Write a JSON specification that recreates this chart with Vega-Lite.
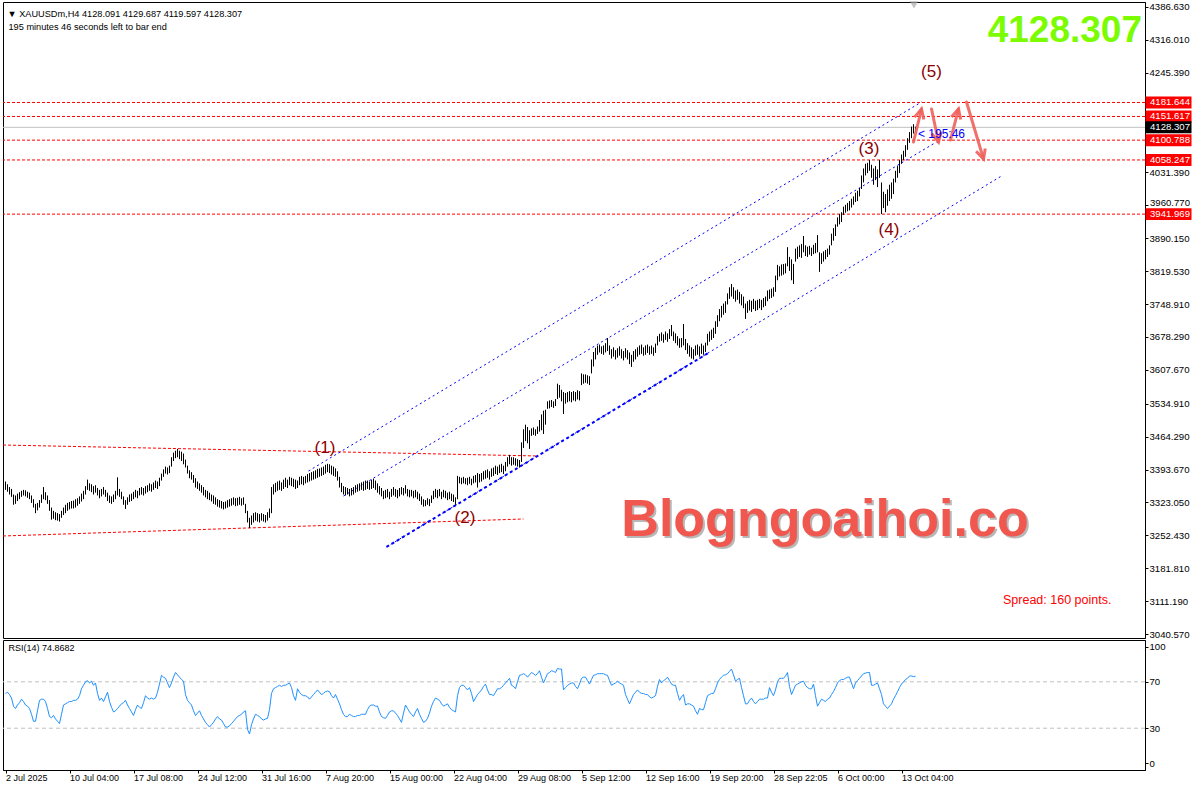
{
"$schema":"https://vega.github.io/schema/vega-lite/v6.json",
"padding":0,
"background":"white",
"spacing":2,
"bounds":"flush",
"config":{"view":{"stroke":"black","strokeWidth":1},"font":"Liberation Sans","axis":{"labelFont":"Liberation Sans","labelFontSize":9.6,"labelColor":"black","domainColor":"black","tickColor":"black","grid":false,"tickSize":3}},
"datasets":{"bars":[
{"i":0,"l":3350,"h":3368,"r":60},{"i":1,"l":3346,"h":3362,"r":61},{"i":2,"l":3340,"h":3356,"r":59},{"i":3,"l":3335,"h":3352,"r":56},{"i":4,"l":3318,"h":3340,"r":49},{"i":5,"l":3320,"h":3338,"r":47},{"i":6,"l":3326,"h":3342,"r":50},{"i":7,"l":3330,"h":3345,"r":52},{"i":8,"l":3335,"h":3348,"r":55},{"i":9,"l":3338,"h":3350,"r":53},
{"i":10,"l":3336,"h":3349,"r":50},{"i":11,"l":3333,"h":3346,"r":49},{"i":12,"l":3330,"h":3344,"r":47},{"i":13,"l":3322,"h":3338,"r":42},{"i":14,"l":3312,"h":3330,"r":36},{"i":15,"l":3300,"h":3320,"r":36},{"i":16,"l":3306,"h":3322,"r":45},{"i":17,"l":3312,"h":3328,"r":54},{"i":18,"l":3322,"h":3340,"r":55},{"i":19,"l":3330,"h":3356,"r":55},
{"i":20,"l":3328,"h":3345,"r":53},{"i":21,"l":3320,"h":3338,"r":47},{"i":22,"l":3305,"h":3328,"r":40},{"i":23,"l":3286,"h":3312,"r":39},{"i":24,"l":3288,"h":3305,"r":41},{"i":25,"l":3285,"h":3302,"r":38},{"i":26,"l":3284,"h":3300,"r":36},{"i":27,"l":3282,"h":3298,"r":34},{"i":28,"l":3290,"h":3305,"r":42},{"i":29,"l":3296,"h":3312,"r":50},
{"i":30,"l":3300,"h":3318,"r":51},{"i":31,"l":3305,"h":3322,"r":52},{"i":32,"l":3308,"h":3324,"r":53},{"i":33,"l":3310,"h":3326,"r":53},{"i":34,"l":3310,"h":3327,"r":54},{"i":35,"l":3312,"h":3330,"r":54},{"i":36,"l":3316,"h":3332,"r":55},{"i":37,"l":3320,"h":3336,"r":58},{"i":38,"l":3325,"h":3342,"r":64},{"i":39,"l":3330,"h":3348,"r":67},
{"i":40,"l":3340,"h":3358,"r":70},{"i":41,"l":3350,"h":3372,"r":71},{"i":42,"l":3348,"h":3364,"r":69},{"i":43,"l":3345,"h":3362,"r":70.5},{"i":44,"l":3340,"h":3358,"r":67},{"i":45,"l":3344,"h":3360,"r":69},{"i":46,"l":3338,"h":3354,"r":60},{"i":47,"l":3332,"h":3350,"r":54},{"i":48,"l":3336,"h":3352,"r":56},{"i":49,"l":3340,"h":3356,"r":53},
{"i":50,"l":3335,"h":3350,"r":57},{"i":51,"l":3326,"h":3344,"r":61},{"i":52,"l":3322,"h":3338,"r":53},{"i":53,"l":3320,"h":3336,"r":48},{"i":54,"l":3324,"h":3340,"r":44},{"i":55,"l":3330,"h":3348,"r":45},{"i":56,"l":3338,"h":3377,"r":47},{"i":57,"l":3335,"h":3352,"r":49},{"i":58,"l":3330,"h":3346,"r":51},{"i":59,"l":3318,"h":3336,"r":52},
{"i":60,"l":3309,"h":3328,"r":54},{"i":61,"l":3318,"h":3334,"r":50},{"i":62,"l":3324,"h":3340,"r":47},{"i":63,"l":3326,"h":3342,"r":44},{"i":64,"l":3330,"h":3346,"r":41},{"i":65,"l":3334,"h":3350,"r":46},{"i":66,"l":3332,"h":3348,"r":50},{"i":67,"l":3338,"h":3354,"r":48},{"i":68,"l":3340,"h":3356,"r":47},{"i":69,"l":3338,"h":3354,"r":52},
{"i":70,"l":3342,"h":3358,"r":58},{"i":71,"l":3345,"h":3360,"r":56},{"i":72,"l":3348,"h":3364,"r":55},{"i":73,"l":3346,"h":3362,"r":56},{"i":74,"l":3350,"h":3366,"r":55},{"i":75,"l":3354,"h":3370,"r":56},{"i":76,"l":3352,"h":3368,"r":61},{"i":77,"l":3358,"h":3376,"r":68},{"i":78,"l":3370,"h":3385,"r":75.6},{"i":79,"l":3378,"h":3394,"r":74},
{"i":80,"l":3385,"h":3400,"r":73},{"i":81,"l":3383,"h":3398,"r":69},{"i":82,"l":3386,"h":3402,"r":65},{"i":83,"l":3400,"h":3420,"r":69},{"i":84,"l":3412,"h":3430,"r":74},{"i":85,"l":3418,"h":3434,"r":78},{"i":86,"l":3420,"h":3438,"r":76},{"i":87,"l":3416,"h":3434,"r":74},{"i":88,"l":3412,"h":3432,"r":72},{"i":89,"l":3405,"h":3428,"r":70.5},
{"i":90,"l":3398,"h":3415,"r":59},{"i":91,"l":3385,"h":3402,"r":54},{"i":92,"l":3375,"h":3392,"r":52},{"i":93,"l":3372,"h":3388,"r":50},{"i":94,"l":3365,"h":3382,"r":45},{"i":95,"l":3355,"h":3375,"r":41},{"i":96,"l":3352,"h":3368,"r":43},{"i":97,"l":3348,"h":3364,"r":45},{"i":98,"l":3344,"h":3360,"r":41},{"i":99,"l":3338,"h":3356,"r":38},
{"i":100,"l":3334,"h":3350,"r":35},{"i":101,"l":3330,"h":3348,"r":33},{"i":102,"l":3328,"h":3344,"r":31},{"i":103,"l":3325,"h":3340,"r":33},{"i":104,"l":3320,"h":3338,"r":35},{"i":105,"l":3318,"h":3334,"r":38},{"i":106,"l":3314,"h":3330,"r":40},{"i":107,"l":3312,"h":3328,"r":38},{"i":108,"l":3310,"h":3326,"r":37},{"i":109,"l":3308,"h":3324,"r":34},
{"i":110,"l":3310,"h":3325,"r":31},{"i":111,"l":3312,"h":3328,"r":31},{"i":112,"l":3314,"h":3330,"r":32},{"i":113,"l":3316,"h":3332,"r":34},{"i":114,"l":3318,"h":3334,"r":36},{"i":115,"l":3315,"h":3332,"r":38},{"i":116,"l":3316,"h":3333,"r":40},{"i":117,"l":3318,"h":3335,"r":41},{"i":118,"l":3316,"h":3332,"r":42},{"i":119,"l":3318,"h":3334,"r":44},
{"i":120,"l":3300,"h":3320,"r":45},{"i":121,"l":3280,"h":3305,"r":29},{"i":122,"l":3268,"h":3290,"r":25},{"i":123,"l":3275,"h":3295,"r":33},{"i":124,"l":3280,"h":3300,"r":38},{"i":125,"l":3284,"h":3302,"r":42},{"i":126,"l":3282,"h":3300,"r":41},{"i":127,"l":3280,"h":3298,"r":40},{"i":128,"l":3284,"h":3300,"r":38},{"i":129,"l":3282,"h":3298,"r":37},
{"i":130,"l":3280,"h":3296,"r":38},{"i":131,"l":3284,"h":3302,"r":38.5},{"i":132,"l":3290,"h":3310,"r":46},{"i":133,"l":3300,"h":3356,"r":60},{"i":134,"l":3340,"h":3362,"r":64},{"i":135,"l":3345,"h":3365,"r":65},{"i":136,"l":3348,"h":3368,"r":66},{"i":137,"l":3350,"h":3370,"r":67},{"i":138,"l":3348,"h":3366,"r":66},{"i":139,"l":3352,"h":3372,"r":67},
{"i":140,"l":3356,"h":3376,"r":67},{"i":141,"l":3354,"h":3372,"r":68},{"i":142,"l":3360,"h":3378,"r":69},{"i":143,"l":3358,"h":3376,"r":65},{"i":144,"l":3356,"h":3374,"r":58},{"i":145,"l":3352,"h":3372,"r":54},{"i":146,"l":3354,"h":3370,"r":64},{"i":147,"l":3360,"h":3378,"r":61},{"i":148,"l":3362,"h":3380,"r":59},{"i":149,"l":3360,"h":3378,"r":58},
{"i":150,"l":3364,"h":3380,"r":58},{"i":151,"l":3366,"h":3384,"r":57},{"i":152,"l":3368,"h":3386,"r":55},{"i":153,"l":3370,"h":3388,"r":57},{"i":154,"l":3372,"h":3390,"r":59},{"i":155,"l":3374,"h":3392,"r":61},{"i":156,"l":3376,"h":3395,"r":63},{"i":157,"l":3378,"h":3396,"r":61},{"i":158,"l":3380,"h":3398,"r":59},{"i":159,"l":3382,"h":3400,"r":60},
{"i":160,"l":3385,"h":3404,"r":61.5},{"i":161,"l":3388,"h":3406,"r":62},{"i":162,"l":3386,"h":3405,"r":61.5},{"i":163,"l":3383,"h":3402,"r":58},{"i":164,"l":3380,"h":3400,"r":56},{"i":165,"l":3378,"h":3396,"r":59},{"i":166,"l":3370,"h":3390,"r":55},{"i":167,"l":3355,"h":3378,"r":51},{"i":168,"l":3345,"h":3365,"r":46},{"i":169,"l":3340,"h":3358,"r":42},
{"i":170,"l":3338,"h":3356,"r":40},{"i":171,"l":3340,"h":3354,"r":40},{"i":172,"l":3336,"h":3352,"r":42},{"i":173,"l":3338,"h":3354,"r":41},{"i":174,"l":3340,"h":3356,"r":40},{"i":175,"l":3344,"h":3360,"r":40},{"i":176,"l":3346,"h":3362,"r":41},{"i":177,"l":3348,"h":3364,"r":41},{"i":178,"l":3350,"h":3366,"r":42},{"i":179,"l":3348,"h":3368,"r":42},
{"i":180,"l":3350,"h":3370,"r":42},{"i":181,"l":3352,"h":3370,"r":46},{"i":182,"l":3350,"h":3368,"r":49},{"i":183,"l":3352,"h":3372,"r":50},{"i":184,"l":3354,"h":3374,"r":50},{"i":185,"l":3350,"h":3370,"r":49},{"i":186,"l":3344,"h":3364,"r":49},{"i":187,"l":3340,"h":3358,"r":44},{"i":188,"l":3336,"h":3354,"r":40},{"i":189,"l":3330,"h":3348,"r":39},
{"i":190,"l":3332,"h":3350,"r":38.5},{"i":191,"l":3334,"h":3352,"r":41},{"i":192,"l":3330,"h":3346,"r":44},{"i":193,"l":3335,"h":3352,"r":45},{"i":194,"l":3338,"h":3356,"r":45},{"i":195,"l":3335,"h":3352,"r":43},{"i":196,"l":3332,"h":3350,"r":41},{"i":197,"l":3336,"h":3354,"r":38},{"i":198,"l":3340,"h":3356,"r":35},{"i":199,"l":3338,"h":3354,"r":43},
{"i":200,"l":3342,"h":3360,"r":50},{"i":201,"l":3336,"h":3352,"r":47},{"i":202,"l":3334,"h":3350,"r":44},{"i":203,"l":3336,"h":3350,"r":42},{"i":204,"l":3332,"h":3348,"r":40},{"i":205,"l":3334,"h":3350,"r":44},{"i":206,"l":3330,"h":3346,"r":47},{"i":207,"l":3326,"h":3342,"r":42},{"i":208,"l":3318,"h":3336,"r":38.5},{"i":209,"l":3314,"h":3330,"r":35},
{"i":210,"l":3315,"h":3328,"r":36},{"i":211,"l":3318,"h":3332,"r":38.5},{"i":212,"l":3315,"h":3330,"r":43},{"i":213,"l":3322,"h":3338,"r":49},{"i":214,"l":3330,"h":3348,"r":53},{"i":215,"l":3334,"h":3352,"r":56},{"i":216,"l":3332,"h":3350,"r":55},{"i":217,"l":3336,"h":3352,"r":54},{"i":218,"l":3330,"h":3346,"r":51},{"i":219,"l":3334,"h":3350,"r":49},
{"i":220,"l":3332,"h":3348,"r":50},{"i":221,"l":3328,"h":3344,"r":51},{"i":222,"l":3330,"h":3346,"r":48},{"i":223,"l":3326,"h":3342,"r":46},{"i":224,"l":3324,"h":3340,"r":45},{"i":225,"l":3318,"h":3334,"r":44},{"i":226,"l":3330,"h":3380,"r":58},{"i":227,"l":3364,"h":3378,"r":65},{"i":228,"l":3362,"h":3376,"r":67},{"i":229,"l":3364,"h":3378,"r":67},
{"i":230,"l":3362,"h":3375,"r":65},{"i":231,"l":3360,"h":3376,"r":63},{"i":232,"l":3363,"h":3378,"r":65},{"i":233,"l":3360,"h":3374,"r":60},{"i":234,"l":3364,"h":3380,"r":53},{"i":235,"l":3366,"h":3382,"r":56},{"i":236,"l":3355,"h":3386,"r":59},{"i":237,"l":3366,"h":3384,"r":61},{"i":238,"l":3368,"h":3386,"r":63},{"i":239,"l":3372,"h":3390,"r":66},
{"i":240,"l":3374,"h":3392,"r":68},{"i":241,"l":3376,"h":3394,"r":63},{"i":242,"l":3372,"h":3390,"r":59},{"i":243,"l":3378,"h":3396,"r":59},{"i":244,"l":3380,"h":3398,"r":58},{"i":245,"l":3384,"h":3402,"r":61},{"i":246,"l":3382,"h":3400,"r":64},{"i":247,"l":3386,"h":3404,"r":64},{"i":248,"l":3388,"h":3406,"r":65},{"i":249,"l":3384,"h":3402,"r":67},
{"i":250,"l":3390,"h":3410,"r":69},{"i":251,"l":3400,"h":3420,"r":71},{"i":252,"l":3405,"h":3425,"r":73},{"i":253,"l":3402,"h":3420,"r":67},{"i":254,"l":3404,"h":3420,"r":66},{"i":255,"l":3402,"h":3418,"r":64},{"i":256,"l":3400,"h":3416,"r":70},{"i":257,"l":3398,"h":3414,"r":75.6},{"i":258,"l":3410,"h":3452,"r":76},{"i":259,"l":3440,"h":3480,"r":77},
{"i":260,"l":3455,"h":3490,"r":76},{"i":261,"l":3450,"h":3485,"r":74},{"i":262,"l":3438,"h":3478,"r":76},{"i":263,"l":3466,"h":3482,"r":78},{"i":264,"l":3468,"h":3484,"r":77},{"i":265,"l":3466,"h":3480,"r":75.6},{"i":266,"l":3470,"h":3486,"r":77},{"i":267,"l":3475,"h":3500,"r":79.5},{"i":268,"l":3478,"h":3512,"r":74},{"i":269,"l":3470,"h":3520,"r":69},
{"i":270,"l":3490,"h":3522,"r":73},{"i":271,"l":3524,"h":3540,"r":77},{"i":272,"l":3525,"h":3542,"r":78},{"i":273,"l":3528,"h":3543,"r":79.5},{"i":274,"l":3526,"h":3540,"r":79},{"i":275,"l":3530,"h":3545,"r":78},{"i":276,"l":3545,"h":3578,"r":81.5},{"i":277,"l":3548,"h":3575,"r":81},{"i":278,"l":3540,"h":3565,"r":81},{"i":279,"l":3513,"h":3560,"r":63},
{"i":280,"l":3535,"h":3558,"r":65},{"i":281,"l":3538,"h":3560,"r":67},{"i":282,"l":3540,"h":3562,"r":68},{"i":283,"l":3538,"h":3560,"r":69},{"i":284,"l":3542,"h":3562,"r":69},{"i":285,"l":3540,"h":3560,"r":66},{"i":286,"l":3544,"h":3564,"r":64},{"i":287,"l":3542,"h":3562,"r":68},{"i":288,"l":3575,"h":3600,"r":73},{"i":289,"l":3578,"h":3598,"r":74},
{"i":290,"l":3580,"h":3598,"r":74},{"i":291,"l":3578,"h":3596,"r":71},{"i":292,"l":3575,"h":3594,"r":68},{"i":293,"l":3600,"h":3630,"r":72},{"i":294,"l":3615,"h":3646,"r":75.6},{"i":295,"l":3630,"h":3655,"r":76},{"i":296,"l":3640,"h":3660,"r":77},{"i":297,"l":3645,"h":3662,"r":77},{"i":298,"l":3642,"h":3658,"r":77},{"i":299,"l":3640,"h":3660,"r":77},
{"i":300,"l":3645,"h":3665,"r":76},{"i":301,"l":3648,"h":3676,"r":75.6},{"i":302,"l":3640,"h":3660,"r":71},{"i":303,"l":3632,"h":3652,"r":67},{"i":304,"l":3636,"h":3656,"r":68},{"i":305,"l":3630,"h":3650,"r":69},{"i":306,"l":3634,"h":3654,"r":70.5},{"i":307,"l":3638,"h":3658,"r":69},{"i":308,"l":3632,"h":3652,"r":68},{"i":309,"l":3628,"h":3648,"r":67},
{"i":310,"l":3634,"h":3654,"r":59},{"i":311,"l":3630,"h":3650,"r":55},{"i":312,"l":3620,"h":3645,"r":51},{"i":313,"l":3614,"h":3640,"r":55},{"i":314,"l":3625,"h":3648,"r":59},{"i":315,"l":3630,"h":3652,"r":61},{"i":316,"l":3636,"h":3656,"r":63},{"i":317,"l":3640,"h":3660,"r":61},{"i":318,"l":3642,"h":3662,"r":60},{"i":319,"l":3638,"h":3656,"r":60},
{"i":320,"l":3640,"h":3660,"r":59},{"i":321,"l":3644,"h":3662,"r":59},{"i":322,"l":3640,"h":3658,"r":57},{"i":323,"l":3642,"h":3660,"r":56},{"i":324,"l":3638,"h":3656,"r":57},{"i":325,"l":3644,"h":3664,"r":58},{"i":326,"l":3660,"h":3680,"r":66},{"i":327,"l":3668,"h":3685,"r":72},{"i":328,"l":3670,"h":3688,"r":69},{"i":329,"l":3666,"h":3684,"r":71},
{"i":330,"l":3672,"h":3690,"r":72},{"i":331,"l":3668,"h":3686,"r":74},{"i":332,"l":3674,"h":3695,"r":71},{"i":333,"l":3680,"h":3704,"r":68},{"i":334,"l":3670,"h":3690,"r":67},{"i":335,"l":3665,"h":3686,"r":67},{"i":336,"l":3660,"h":3680,"r":60},{"i":337,"l":3655,"h":3675,"r":54},{"i":338,"l":3656,"h":3676,"r":57},{"i":339,"l":3660,"h":3706,"r":59},
{"i":340,"l":3650,"h":3674,"r":50},{"i":341,"l":3642,"h":3665,"r":51},{"i":342,"l":3636,"h":3660,"r":51},{"i":343,"l":3632,"h":3656,"r":50},{"i":344,"l":3630,"h":3652,"r":49},{"i":345,"l":3638,"h":3660,"r":45},{"i":346,"l":3640,"h":3662,"r":42},{"i":347,"l":3636,"h":3658,"r":47},{"i":348,"l":3642,"h":3664,"r":46},{"i":349,"l":3640,"h":3660,"r":46},
{"i":350,"l":3646,"h":3666,"r":52},{"i":351,"l":3660,"h":3685,"r":58},{"i":352,"l":3668,"h":3690,"r":59},{"i":353,"l":3672,"h":3694,"r":60},{"i":354,"l":3676,"h":3698,"r":60},{"i":355,"l":3685,"h":3712,"r":64},{"i":356,"l":3700,"h":3725,"r":69},{"i":357,"l":3712,"h":3738,"r":72},{"i":358,"l":3720,"h":3745,"r":74},{"i":359,"l":3726,"h":3750,"r":75.6},
{"i":360,"l":3730,"h":3755,"r":76},{"i":361,"l":3748,"h":3772,"r":77},{"i":362,"l":3760,"h":3785,"r":79},{"i":363,"l":3765,"h":3792,"r":81},{"i":364,"l":3760,"h":3785,"r":76},{"i":365,"l":3754,"h":3778,"r":70.5},{"i":366,"l":3758,"h":3780,"r":72},{"i":367,"l":3750,"h":3775,"r":73},{"i":368,"l":3746,"h":3770,"r":65},{"i":369,"l":3740,"h":3765,"r":58},
{"i":370,"l":3717,"h":3750,"r":51},{"i":371,"l":3730,"h":3755,"r":51},{"i":372,"l":3735,"h":3758,"r":54},{"i":373,"l":3732,"h":3756,"r":56},{"i":374,"l":3738,"h":3760,"r":53},{"i":375,"l":3734,"h":3756,"r":51},{"i":376,"l":3736,"h":3758,"r":53},{"i":377,"l":3740,"h":3760,"r":55},{"i":378,"l":3736,"h":3758,"r":55},{"i":379,"l":3742,"h":3762,"r":55},
{"i":380,"l":3745,"h":3765,"r":56},{"i":381,"l":3755,"h":3778,"r":56},{"i":382,"l":3760,"h":3780,"r":65},{"i":383,"l":3762,"h":3782,"r":61},{"i":384,"l":3765,"h":3785,"r":58},{"i":385,"l":3775,"h":3810,"r":63},{"i":386,"l":3800,"h":3833,"r":70},{"i":387,"l":3808,"h":3830,"r":73},{"i":388,"l":3810,"h":3834,"r":73},{"i":389,"l":3812,"h":3835,"r":73},
{"i":390,"l":3815,"h":3836,"r":75},{"i":391,"l":3830,"h":3871,"r":78},{"i":392,"l":3820,"h":3850,"r":66},{"i":393,"l":3800,"h":3845,"r":59},{"i":394,"l":3792,"h":3835,"r":63},{"i":395,"l":3840,"h":3868,"r":67},{"i":396,"l":3846,"h":3872,"r":68},{"i":397,"l":3850,"h":3875,"r":69},{"i":398,"l":3848,"h":3878,"r":70},{"i":399,"l":3860,"h":3895,"r":70.5},
{"i":400,"l":3852,"h":3875,"r":67},{"i":401,"l":3850,"h":3872,"r":65},{"i":402,"l":3855,"h":3874,"r":64},{"i":403,"l":3852,"h":3870,"r":64},{"i":404,"l":3856,"h":3876,"r":68},{"i":405,"l":3858,"h":3880,"r":58},{"i":406,"l":3860,"h":3897,"r":49},{"i":407,"l":3818,"h":3860,"r":52},{"i":408,"l":3835,"h":3858,"r":55},{"i":409,"l":3840,"h":3862,"r":54},
{"i":410,"l":3845,"h":3865,"r":53},{"i":411,"l":3850,"h":3868,"r":55},{"i":412,"l":3855,"h":3875,"r":56},{"i":413,"l":3875,"h":3900,"r":59},{"i":414,"l":3885,"h":3912,"r":61.5},{"i":415,"l":3895,"h":3920,"r":65},{"i":416,"l":3915,"h":3935,"r":69},{"i":417,"l":3920,"h":3942,"r":71},{"i":418,"l":3925,"h":3946,"r":72},{"i":419,"l":3940,"h":3958,"r":72},
{"i":420,"l":3945,"h":3962,"r":73},{"i":421,"l":3948,"h":3966,"r":74},{"i":422,"l":3950,"h":3970,"r":74},{"i":423,"l":3956,"h":3975,"r":69},{"i":424,"l":3962,"h":3980,"r":64},{"i":425,"l":3968,"h":3988,"r":69},{"i":426,"l":3970,"h":3992,"r":71},{"i":427,"l":3980,"h":3998,"r":73},{"i":428,"l":3996,"h":4025,"r":75},{"i":429,"l":4010,"h":4040,"r":77},
{"i":430,"l":4025,"h":4050,"r":77.5},{"i":431,"l":4030,"h":4052,"r":78},{"i":432,"l":4035,"h":4058,"r":78},{"i":433,"l":4020,"h":4048,"r":67},{"i":434,"l":4005,"h":4040,"r":67},{"i":435,"l":4015,"h":4045,"r":68},{"i":436,"l":4000,"h":4038,"r":69},{"i":437,"l":4020,"h":4058,"r":64},{"i":438,"l":3942,"h":4010,"r":59},{"i":439,"l":3955,"h":3990,"r":51},
{"i":440,"l":3946,"h":3985,"r":49},{"i":441,"l":3960,"h":3995,"r":47},{"i":442,"l":3970,"h":4005,"r":49},{"i":443,"l":3975,"h":4010,"r":51},{"i":444,"l":3985,"h":4018,"r":55},{"i":445,"l":4010,"h":4035,"r":58},{"i":446,"l":4020,"h":4045,"r":61.5},{"i":447,"l":4030,"h":4058,"r":65},{"i":448,"l":4050,"h":4070,"r":68},{"i":449,"l":4058,"h":4078,"r":70},
{"i":450,"l":4065,"h":4090,"r":72},{"i":451,"l":4080,"h":4105,"r":73},{"i":452,"l":4095,"h":4118,"r":75},{"i":453,"l":4105,"h":4130,"r":75},{"i":454,"l":4115,"h":4135,"r":74.4},{"i":455,"l":4119.597,"h":4129.687,"r":74.87}
]},
"vconcat":[
{"width":1142,"height":636,
"resolve":{"axis":{"x":"independent","y":"independent"}},
"layer":[
{"data":{"values":[{"p":4128.307}]},"mark":{"type":"rule","color":"#c0c0c0","strokeWidth":1},
 "encoding":{"y":{"field":"p","type":"quantitative","scale":{"domain":[3032,4397.36],"nice":false,"zero":false},"axis":null}}},
{"data":{"values":[{"p":4181.644},{"p":4151.617},{"p":4100.788},{"p":4058.247},{"p":3941.969}]},"mark":{"type":"rule","color":"#ff0000","strokeWidth":1,"strokeDash":[3,2]},
 "encoding":{"y":{"field":"p","type":"quantitative","scale":{"domain":[3032,4397.36],"nice":false,"zero":false},"axis":null}}},
{"data":{"values":[{"id":"u","i":-1.25,"p":3446.3},{"id":"u","i":266.5,"p":3422.7},{"id":"d","i":-1.25,"p":3251.0},{"id":"d","i":259,"p":3287.5}]},"mark":{"type":"line","color":"#ff0000","strokeWidth":1,"strokeDash":[3,2]},
 "encoding":{"x":{"field":"i","type":"quantitative","scale":{"domain":[-1.25,569.75],"nice":false,"zero":false},"axis":null},"y":{"field":"p","type":"quantitative","scale":{"domain":[3032,4397.36],"nice":false,"zero":false},"axis":null},"detail":{"field":"id"}}},
{"data":{"values":[{"id":"a","i":151.5,"p":3390.5},{"id":"a","i":458,"p":4182.7},{"id":"b","i":169,"p":3336.8},{"id":"b","i":465.5,"p":4096.8},{"id":"c","i":190.5,"p":3227.4},{"id":"c","i":498,"p":4023.8}]},"mark":{"type":"line","color":"#0000ff","strokeWidth":1,"strokeDash":[2,3]},
 "encoding":{"x":{"field":"i","type":"quantitative","scale":{"domain":[-1.25,569.75],"nice":false,"zero":false},"axis":null},"y":{"field":"p","type":"quantitative","scale":{"domain":[3032,4397.36],"nice":false,"zero":false},"axis":null},"detail":{"field":"id"}}},
{"data":{"values":[{"i":190.5,"p":3227.4},{"i":351.5,"p":3644}]},"mark":{"type":"line","color":"#0000ff","strokeWidth":2,"strokeDash":[3,3]},
 "encoding":{"x":{"field":"i","type":"quantitative","scale":{"domain":[-1.25,569.75],"nice":false,"zero":false},"axis":null},"y":{"field":"p","type":"quantitative","scale":{"domain":[3032,4397.36],"nice":false,"zero":false},"axis":null}}},
{"data":{"name":"bars"},"mark":{"type":"rule","color":"black","strokeWidth":1},
 "encoding":{"x":{"field":"i","type":"quantitative","scale":{"domain":[-1.25,569.75],"nice":false,"zero":false},"axis":null},
  "y":{"field":"l","type":"quantitative","scale":{"domain":[3032,4397.36],"nice":false,"zero":false},
   "axis":{"orient":"right","title":null,"values":[4386.63,4316.01,4245.39,4031.39,3960.77,3890.15,3819.53,3748.91,3678.29,3607.67,3534.91,3464.29,3393.67,3323.05,3252.43,3181.81,3111.19,3040.57],"labelExpr":"datum.value == 3960.77 ? '' : format(datum.value, '.3f')","labelPadding":1,"tickSize":3,"labelOverlap":false}},
  "y2":{"field":"h"}}},
{"data":{"values":[{"t":"3960.770","p":3966}]},"mark":{"type":"text","color":"black","fontSize":9.6,"align":"left","baseline":"middle"},
 "encoding":{"x":{"datum":572.25,"type":"quantitative","scale":{"domain":[-1.25,569.75],"nice":false,"zero":false},"axis":null},"y":{"field":"p","type":"quantitative","scale":{"domain":[3032,4397.36],"nice":false,"zero":false},"axis":null},"text":{"field":"t"}}},
{"data":{"values":[{"t":"(1)","i":159.75,"p":3439.9},{"t":"(2)","i":229.75,"p":3289.6},{"t":"(3)","i":431.75,"p":4081.8},{"t":"(4)","i":441.75,"p":3907.9},{"t":"(5)","i":463,"p":4247}]},
 "mark":{"type":"text","color":"#8b0000","fontSize":17,"font":"Liberation Sans","align":"center","baseline":"middle"},
 "encoding":{"x":{"field":"i","type":"quantitative","scale":{"domain":[-1.25,569.75],"nice":false,"zero":false},"axis":null},"y":{"field":"p","type":"quantitative","scale":{"domain":[3032,4397.36],"nice":false,"zero":false},"axis":null},"text":{"field":"t"}}},
{"data":{"values":[{"i1":454,"p1":4096.8,"i2":458,"p2":4167.7},{"i1":463,"p1":4167.7,"i2":466.5,"p2":4096.8},{"i1":472.5,"p1":4101.1,"i2":476.5,"p2":4167.7},{"i1":480.5,"p1":4182.7,"i2":489,"p2":4060.3}]},
 "mark":{"type":"rule","color":"#f0605a","strokeWidth":3,"strokeCap":"round","opacity":0.9},
 "encoding":{"x":{"field":"i1","type":"quantitative","scale":{"domain":[-1.25,569.75],"nice":false,"zero":false},"axis":null},"y":{"field":"p1","type":"quantitative","scale":{"domain":[3032,4397.36],"nice":false,"zero":false},"axis":null},"x2":{"field":"i2"},"y2":{"field":"p2"}}},
{"data":{"values":[{"i":458,"p":4167.7}]},"mark":{"type":"point","shape":"M-0.6,1.2L0,0L0.6,1.2","filled":false,"stroke":"#f0605a","strokeWidth":3,"size":256,"angle":14,"opacity":0.9},
 "encoding":{"x":{"field":"i","type":"quantitative","scale":{"domain":[-1.25,569.75],"nice":false,"zero":false},"axis":null},"y":{"field":"p","type":"quantitative","scale":{"domain":[3032,4397.36],"nice":false,"zero":false},"axis":null}}},
{"data":{"values":[{"i":466.5,"p":4096.8}]},"mark":{"type":"point","shape":"M-0.6,1.2L0,0L0.6,1.2","filled":false,"stroke":"#f0605a","strokeWidth":3,"size":256,"angle":168,"opacity":0.9},
 "encoding":{"x":{"field":"i","type":"quantitative","scale":{"domain":[-1.25,569.75],"nice":false,"zero":false},"axis":null},"y":{"field":"p","type":"quantitative","scale":{"domain":[3032,4397.36],"nice":false,"zero":false},"axis":null}}},
{"data":{"values":[{"i":476.5,"p":4167.7}]},"mark":{"type":"point","shape":"M-0.6,1.2L0,0L0.6,1.2","filled":false,"stroke":"#f0605a","strokeWidth":3,"size":256,"angle":14.5,"opacity":0.9},
 "encoding":{"x":{"field":"i","type":"quantitative","scale":{"domain":[-1.25,569.75],"nice":false,"zero":false},"axis":null},"y":{"field":"p","type":"quantitative","scale":{"domain":[3032,4397.36],"nice":false,"zero":false},"axis":null}}},
{"data":{"values":[{"i":489,"p":4060.3}]},"mark":{"type":"point","shape":"M-0.6,1.2L0,0L0.6,1.2","filled":false,"stroke":"#f0605a","strokeWidth":3,"size":256,"angle":163,"opacity":0.9},
 "encoding":{"x":{"field":"i","type":"quantitative","scale":{"domain":[-1.25,569.75],"nice":false,"zero":false},"axis":null},"y":{"field":"p","type":"quantitative","scale":{"domain":[3032,4397.36],"nice":false,"zero":false},"axis":null}}},
{"data":{"values":[{"t":"< 195:46","i":456.25,"p":4114}]},"mark":{"type":"text","color":"#0000ff","fontSize":12,"align":"left","baseline":"middle"},
 "encoding":{"x":{"field":"i","type":"quantitative","scale":{"domain":[-1.25,569.75],"nice":false,"zero":false},"axis":null},"y":{"field":"p","type":"quantitative","scale":{"domain":[3032,4397.36],"nice":false,"zero":false},"axis":null},"text":{"field":"t"}}},
{"data":{"values":[{"t":"Blogngoaihoi.co","i":409.75,"p":3251}]},"mark":{"type":"text","color":"#b8b8b8","fontSize":52,"fontWeight":"bold","align":"center","baseline":"alphabetic","dx":2,"dy":2},
 "encoding":{"x":{"field":"i","type":"quantitative","scale":{"domain":[-1.25,569.75],"nice":false,"zero":false},"axis":null},"y":{"field":"p","type":"quantitative","scale":{"domain":[3032,4397.36],"nice":false,"zero":false},"axis":null},"text":{"field":"t"}}},
{"data":{"values":[{"t":"Blogngoaihoi.co","i":409.75,"p":3251}]},"mark":{"type":"text","color":"#f0584f","fontSize":52,"fontWeight":"bold","align":"center","baseline":"alphabetic"},
 "encoding":{"x":{"field":"i","type":"quantitative","scale":{"domain":[-1.25,569.75],"nice":false,"zero":false},"axis":null},"y":{"field":"p","type":"quantitative","scale":{"domain":[3032,4397.36],"nice":false,"zero":false},"axis":null},"text":{"field":"t"}}},
{"data":{"values":[{"t":"4128.307","i":568.25,"p":4312}]},"mark":{"type":"text","color":"#7cfc00","fontSize":37,"fontWeight":"bold","align":"right","baseline":"alphabetic"},
 "encoding":{"x":{"field":"i","type":"quantitative","scale":{"domain":[-1.25,569.75],"nice":false,"zero":false},"axis":null},"y":{"field":"p","type":"quantitative","scale":{"domain":[3032,4397.36],"nice":false,"zero":false},"axis":null},"text":{"field":"t"}}},
{"data":{"values":[{"t":"Spread: 160 points.","i":498.75,"p":3105}]},"mark":{"type":"text","color":"#ff0000","fontSize":12.5,"align":"left","baseline":"alphabetic"},
 "encoding":{"x":{"field":"i","type":"quantitative","scale":{"domain":[-1.25,569.75],"nice":false,"zero":false},"axis":null},"y":{"field":"p","type":"quantitative","scale":{"domain":[3032,4397.36],"nice":false,"zero":false},"axis":null},"text":{"field":"t"}}},
{"data":{"values":[{"t":"▼ XAUUSDm,H4  4128.091 4129.687 4119.597 4128.307","i":1,"p":4365},{"t":"195 minutes 46 seconds left to bar end","i":1.5,"p":4338}]},"mark":{"type":"text","color":"black","fontSize":9.2,"align":"left","baseline":"alphabetic"},
 "encoding":{"x":{"field":"i","type":"quantitative","scale":{"domain":[-1.25,569.75],"nice":false,"zero":false},"axis":null},"y":{"field":"p","type":"quantitative","scale":{"domain":[3032,4397.36],"nice":false,"zero":false},"axis":null},"text":{"field":"t"}}},
{"data":{"values":[{"i":454.25,"p":4391}]},"mark":{"type":"point","shape":"triangle-down","filled":true,"color":"#a8a8a8","size":70},
 "encoding":{"x":{"field":"i","type":"quantitative","scale":{"domain":[-1.25,569.75],"nice":false,"zero":false},"axis":null},"y":{"field":"p","type":"quantitative","scale":{"domain":[3032,4397.36],"nice":false,"zero":false},"axis":null}}},
{"data":{"values":[{"p":4181.644,"k":"r"},{"p":4151.617,"k":"r"},{"p":4128.307,"k":"b"},{"p":4100.788,"k":"r"},{"p":4058.247,"k":"r"},{"p":3941.969,"k":"r"}]},
 "mark":{"type":"point","shape":"M-1,-0.26H1V0.26H-1Z","filled":true,"size":2116,"opacity":1,"strokeWidth":0},
 "encoding":{"x":{"datum":581.5,"type":"quantitative","scale":{"domain":[-1.25,569.75],"nice":false,"zero":false},"axis":null},"y":{"field":"p","type":"quantitative","scale":{"domain":[3032,4397.36],"nice":false,"zero":false},"axis":null},
  "color":{"field":"k","type":"nominal","scale":{"domain":["r","b"],"range":["#ff0000","#000000"]},"legend":null}}},
{"data":{"values":[{"p":4181.644},{"p":4151.617},{"p":4128.307},{"p":4100.788},{"p":4058.247},{"p":3941.969}]},
 "mark":{"type":"text","color":"white","fontSize":9.6,"align":"left","baseline":"middle"},
 "encoding":{"x":{"datum":572.25,"type":"quantitative","scale":{"domain":[-1.25,569.75],"nice":false,"zero":false},"axis":null},"y":{"field":"p","type":"quantitative","scale":{"domain":[3032,4397.36],"nice":false,"zero":false},"axis":null},
  "text":{"field":"p","type":"quantitative","format":".3f"}}}
]},
{"width":1142,"height":130,
"resolve":{"axis":{"x":"independent","y":"independent"}},
"layer":[
{"data":{"values":[{"v":70},{"v":30}]},"mark":{"type":"rule","color":"#c0c0c0","strokeWidth":1,"strokeDash":[4,3]},
 "encoding":{"y":{"field":"v","type":"quantitative","scale":{"domain":[-6,106],"nice":false,"zero":false},"axis":null}}},
{"data":{"name":"bars"},"mark":{"type":"line","color":"#1e90ff","strokeWidth":1},
 "encoding":{"x":{"field":"i","type":"quantitative","scale":{"domain":[-1.25,569.75],"nice":false,"zero":false},
   "axis":{"orient":"bottom","title":null,"values":[0,32,64,96,128,160,192,224,256,288,320,352,384,416,448],"labelExpr":"['2 Jul 2025','10 Jul 04:00','17 Jul 08:00','24 Jul 12:00','31 Jul 16:00','7 Aug 20:00','15 Aug 00:00','22 Aug 04:00','29 Aug 08:00','5 Sep 12:00','12 Sep 16:00','19 Sep 20:00','28 Sep 22:05','6 Oct 00:00','13 Oct 04:00'][round(datum.value/32)]","labelAlign":"left","labelPadding":0,"tickSize":3,"labelFontSize":9,"labelFlush":false,"labelOverlap":false,"labelBound":false}},
  "y":{"field":"r","type":"quantitative","scale":{"domain":[-6,106],"nice":false,"zero":false},"axis":{"orient":"right","title":null,"values":[100,70,30,0],"labelPadding":1,"tickSize":3,"labelOverlap":false}}}},
{"data":{"values":[{"t":"RSI(14) 74.8682","i":1.5,"v":99}]},"mark":{"type":"text","color":"black","fontSize":9,"align":"left","baseline":"middle"},
 "encoding":{"x":{"field":"i","type":"quantitative","scale":{"domain":[-1.25,569.75],"nice":false,"zero":false},"axis":null},"y":{"field":"v","type":"quantitative","scale":{"domain":[-6,106],"nice":false,"zero":false},"axis":null},"text":{"field":"t"}}}
]}
]
}
